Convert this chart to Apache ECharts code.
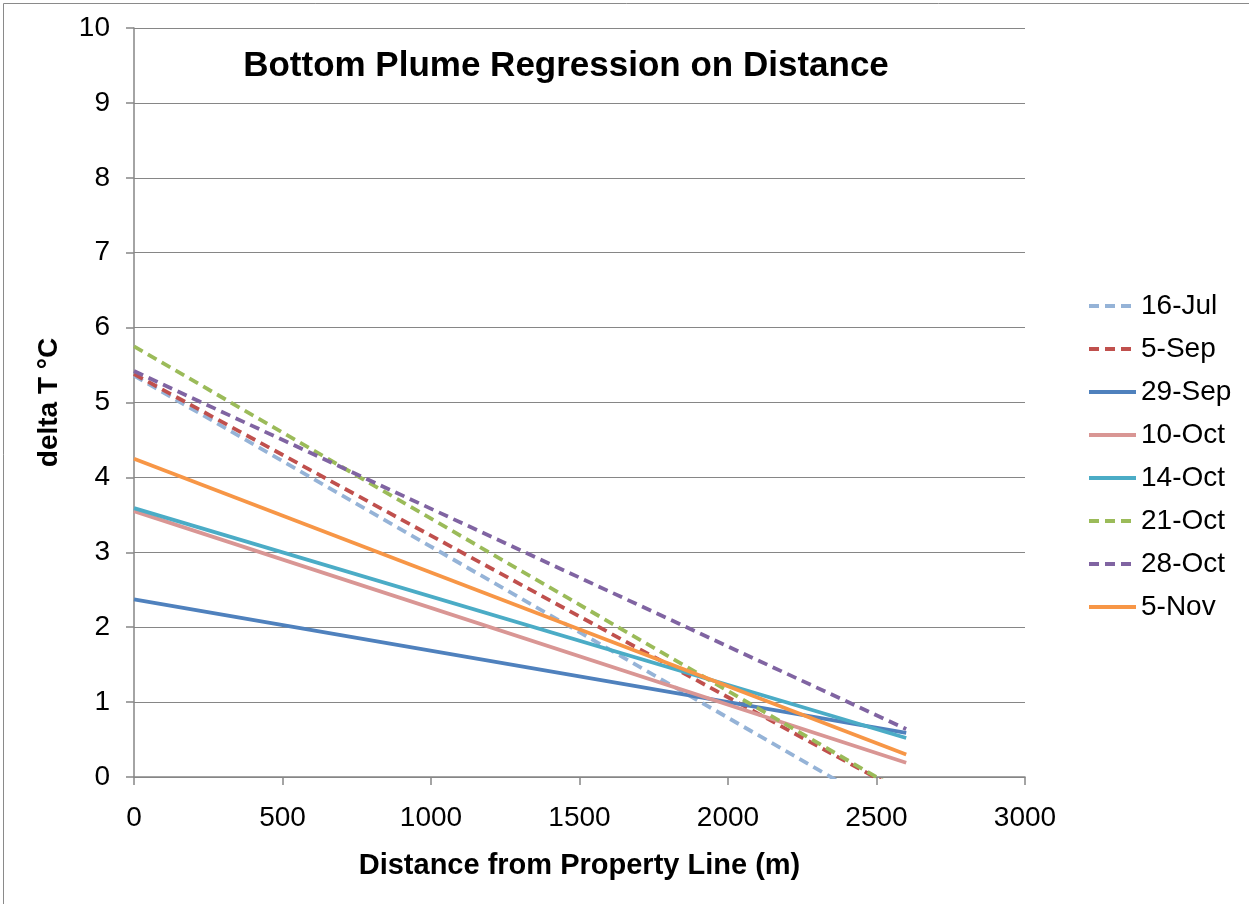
<!DOCTYPE html>
<html>
<head>
<meta charset="utf-8">
<style>
    html, body { margin: 0; padding: 0; background: #fff; }
    #plumeChart { width: 1249px; height: 904px; }
</style>
<script src="https://cdn.jsdelivr.net/npm/echarts@6/dist/echarts.min.js"></script>
</head>
<body>
<div id="plumeChart"></div>
<script>
    // regression lines, value at start (0 m) and end (2600 m)
    var seriesNames = ['16-Jul', '5-Sep', '29-Sep', '10-Oct', '14-Oct', '21-Oct', '28-Oct', '5-Nov'];
    var distStart = 0;
    var distEnd = 2600;
    var startValues = [5.36, 5.38, 2.37, 3.55, 3.59, 5.75, 5.42, 4.25];
    var endValues = [-0.58, -0.23, 0.59, 0.19, 0.52, -0.23, 0.64, 0.30];
    var lineColors = ['#95B3D7', '#C0504D', '#4F81BD', '#D99694', '#4BACC6', '#9BBB59', '#8064A2', '#F79646'];
    var lineDashed = [true, true, false, false, false, true, true, false];
    var xTicks = [0, 500, 1000, 1500, 2000, 2500, 3000];
    var yTicks = [0, 1, 2, 3, 4, 5, 6, 7, 8, 9, 10];

    var axisGray = '#868686';
    var fontFam = 'Liberation Sans, Arial, sans-serif';

    var series = [];
    for (var i = 0; i < seriesNames.length; i++) {
        series.push({
            name: seriesNames[i],
            type: 'line',
            data: [[distStart, startValues[i]], [distEnd, endValues[i]]],
            showSymbol: false,
            symbol: 'none',
            clip: true,
            lineStyle: {
                color: lineColors[i],
                width: 3.8,
                type: lineDashed[i] ? [10, 6] : 'solid'
            },
            itemStyle: { color: lineColors[i] }
        });
    }

    var option = {
        animation: false,
        backgroundColor: '#fff',
        // outer chart frame (right/bottom edges fall outside the picture)
        graphic: [{
            type: 'rect',
            shape: { x: 3.5, y: 3.5, width: 1260, height: 920 },
            style: { fill: 'none', stroke: '#8a8a8a', lineWidth: 1 },
            silent: true
        }],
        title: {
            text: 'Bottom Plume Regression on Distance',
            left: 561,
            top: 44,
            textAlign: 'center',
            textStyle: { fontFamily: fontFam, fontSize: 35, fontWeight: 'bold', color: '#000' }
        },
        legend: {
            orient: 'vertical',
            left: 1082,
            top: 287,
            itemWidth: 47,
            itemHeight: 14,
            itemGap: 15,
            lineStyle: { width: 4 },
            itemStyle: { opacity: 0 },
            textStyle: { fontFamily: fontFam, fontSize: 28, color: '#000' },
            data: seriesNames
        },
        grid: { left: 134, right: 224, top: 28, bottom: 127 },
        xAxis: {
            type: 'value',
            min: 0,
            max: 3000,
            interval: 500,
            name: 'Distance from Property Line (m)',
            nameLocation: 'middle',
            nameGap: 74,
            nameTextStyle: { fontFamily: fontFam, fontSize: 29, fontWeight: 'bold', color: '#000' },
            axisLine: { lineStyle: { color: axisGray, width: 1.5 } },
            axisTick: { show: true, length: 8, lineStyle: { color: axisGray, width: 1.5 } },
            axisLabel: {
                fontFamily: fontFam, fontSize: 28, color: '#000', margin: 27,
                formatter: function (v) { return xTicks.indexOf(v) >= 0 ? String(v) : ''; }
            },
            splitLine: { show: false }
        },
        yAxis: {
            type: 'value',
            min: 0,
            max: 10,
            interval: 1,
            name: 'delta T °C',
            nameLocation: 'middle',
            nameGap: 71,
            nameRotate: 90,
            nameTextStyle: { fontFamily: fontFam, fontSize: 28, fontWeight: 'bold', color: '#000' },
            axisLine: { show: true, lineStyle: { color: axisGray, width: 1.5 } },
            axisTick: { show: true, length: 8, lineStyle: { color: axisGray, width: 1.5 } },
            axisLabel: {
                fontFamily: fontFam, fontSize: 28, color: '#000', margin: 24,
                formatter: function (v) { return yTicks.indexOf(v) >= 0 ? String(v) : ''; }
            },
            splitLine: { show: true, lineStyle: { color: axisGray, width: 1.2 } }
        },
        series: series
    };

    var chart = echarts.init(document.getElementById('plumeChart'));
    chart.setOption(option);
</script>
</body>
</html>
